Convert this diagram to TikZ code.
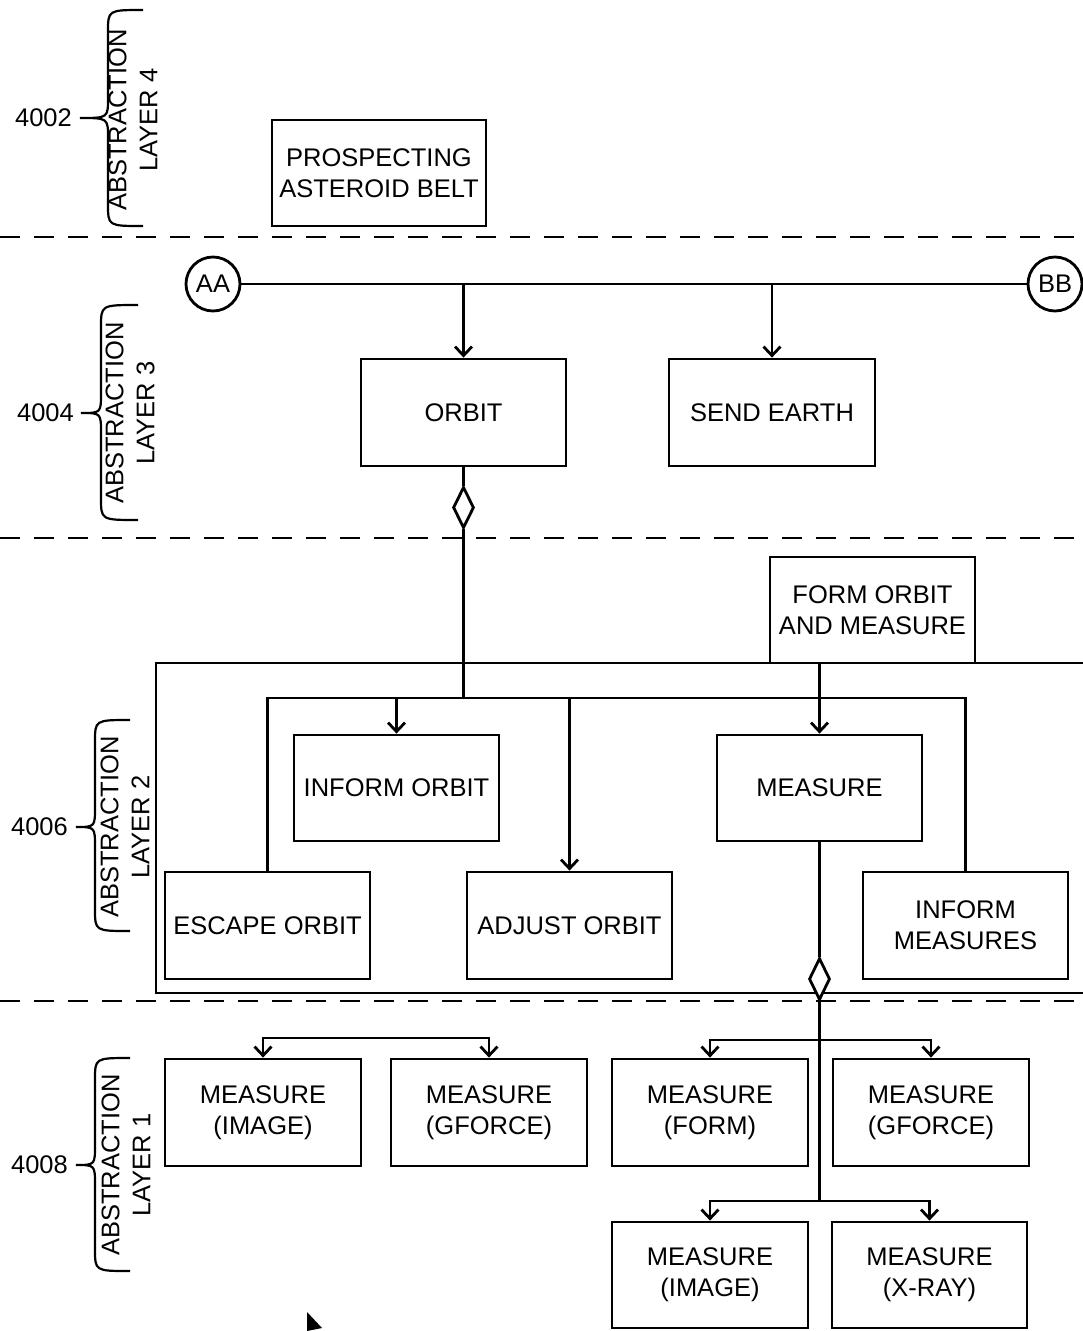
\documentclass[tikz,border=0pt]{standalone}
\usepackage{fontspec}
\setmainfont{Liberation Sans}
\usetikzlibrary{arrows.meta,shapes.geometric}
\newcommand\dfont{\fontsize{25.5}{31}\selectfont}
\newcommand\layerbrace[6]{% #1 xtip, #2 ytip, #3 xv, #4 xend, #5 ytop, #6 ybot
  \draw[brc] (#4,#5) .. controls (#3,#5) .. (#3,#5+22) -- (#3,#2-20)
    .. controls (#3,#2) .. (#1,#2) .. controls (#3,#2) .. (#3,#2+20)
    -- (#3,#6-22) .. controls (#3,#6) .. (#4,#6);}
\tikzset{
  box/.style={draw, line width=2.8pt, minimum width=205pt, minimum height=106pt, inner sep=0pt, align=center, font=\dfont},
  sbox/.style={box, minimum width=196pt},
  conn/.style={line width=2.8pt},
  arr/.style={conn, -{Straight Barb[length=9pt,width=17pt]}},
  layerline/.style={line width=2.2pt, dash pattern=on 20pt off 14pt},
  brc/.style={line width=2.2pt},
  dia/.style={draw, diamond, fill=white, line width=2.8pt, inner sep=0pt, minimum width=21pt, minimum height=41pt},
  lbl/.style={font=\dfont, inner sep=0pt},
  ring/.style={circle, draw, fill=white, line width=2.8pt, minimum size=54pt, inner sep=0pt, font=\dfont},
}
\begin{document}
\begin{tikzpicture}[x=1pt,y=-1pt]
\useasboundingbox (0,0) rectangle (1082,1331);
\fill[white] (0,0) rectangle (1082,1331);

% layer separators
\draw[layerline] (0,237) -- (1082,237);
\draw[layerline] (0,538) -- (1082,538);
\draw[layerline] (0,1001) -- (1082,1001);

% layer labels
\layerbrace{80}{118}{108}{143}{10}{226}
\node[lbl, anchor=east] (n4002) at (72,118) {4002};
\node[lbl, rotate=90, align=center] (t4) at (133,120) {ABSTRACTION\\LAYER 4};

\layerbrace{81}{413}{101}{138}{305}{520}
\node[lbl, anchor=east] (n4004) at (74,413) {4004};
\node[lbl, rotate=90, align=center] (t3) at (130,413) {ABSTRACTION\\LAYER 3};

\layerbrace{76}{827}{95}{130}{720}{931}
\node[lbl, anchor=east] (n4006) at (68,827) {4006};
\node[lbl, rotate=90, align=center] (t2) at (125,827) {ABSTRACTION\\LAYER 2};

\layerbrace{76}{1165}{95}{130}{1058}{1271}
\node[lbl, anchor=east] (n4008) at (68,1165) {4008};
\node[lbl, rotate=90, align=center] (t1) at (126,1165) {ABSTRACTION\\LAYER 1};

% layer 4
\node[box, minimum width=214pt] (prosp) at (379,173) {PROSPECTING\\ASTEROID BELT};

% layer 3
\node[ring] (aa) at (213,284) {AA};
\node[ring] (bb) at (1055,284) {BB};
\draw[conn] (aa) -- (bb);
\node[box, minimum height=107pt] (orbit) at (463.5,412.5) {ORBIT};
\node[box, minimum width=206pt, minimum height=107pt] (send) at (772,412.5) {SEND EARTH};
\draw[arr] (orbit.north |- aa.east) -- (orbit.north);
\draw[arr] (send.north |- aa.east) -- (send.north);
\node[dia] (dia1) at (463.5,507.5) {};
\draw[conn] (orbit.south) -- (dia1.north);

% layer 2
\draw[conn] (1090,663) -- (156,663) -- (156,993) -- (1090,993);
\node[box] (form) at (872.5,610) {FORM ORBIT\\AND MEASURE};
\node[box] (informorbit) at (396.5,788) {INFORM ORBIT};
\node[box] (measure) at (819.5,788) {MEASURE};
\node[box, minimum height=107pt] (escape) at (267.5,925.5) {ESCAPE ORBIT};
\node[box, minimum height=107pt] (adjust) at (569.5,925.5) {ADJUST ORBIT};
\node[box, minimum height=107pt] (informmeas) at (965.5,925.5) {INFORM\\MEASURES};
\coordinate (hub) at (463.5,698);
\draw[conn] (dia1.south) -- (hub);
\draw[conn] (escape.north) |- (hub) -| (informmeas.north);
\draw[arr] (informorbit.north |- hub) -- (informorbit.north);
\draw[arr] (adjust.north |- hub) -- (adjust.north);
\draw[arr] (measure.north |- form.south) -- (measure.north);
\node[dia, minimum height=42pt] (dia2) at (819.5,979) {};
\draw[conn] (measure.south) -- (dia2.north);

% layer 1
\node[sbox, minimum height=107pt] (mimg1) at (263,1112.5) {MEASURE\\(IMAGE)};
\node[sbox, minimum height=107pt] (mgf1) at (489,1112.5) {MEASURE\\(GFORCE)};
\node[sbox, minimum height=107pt] (mform) at (710,1112.5) {MEASURE\\(FORM)};
\node[sbox, minimum height=107pt] (mgf2) at (931,1112.5) {MEASURE\\(GFORCE)};
\node[sbox] (mimg2) at (710,1275) {MEASURE\\(IMAGE)};
\node[sbox, minimum width=195pt] (mxray) at (929.5,1275) {MEASURE\\(X-RAY)};

\coordinate (hubA) at (376,1038);
\draw[arr] (hubA) -| (mimg1.north);
\draw[arr] (hubA) -| (mgf1.north);
\coordinate (hubB) at (819.5,1040);
\coordinate (hubC) at (819.5,1201);
\draw[conn] (dia2.south) -- (hubC);
\draw[arr] (hubB) -| (mform.north);
\draw[arr] (hubB) -| (mgf2.north);
\draw[arr] (hubC) -| (mimg2.north);
\draw[arr] (hubC) -| (mxray.north);

% pointer
\fill (307,1312) -- (322,1328) -- (307,1331) -- cycle;
\end{tikzpicture}
\end{document}
